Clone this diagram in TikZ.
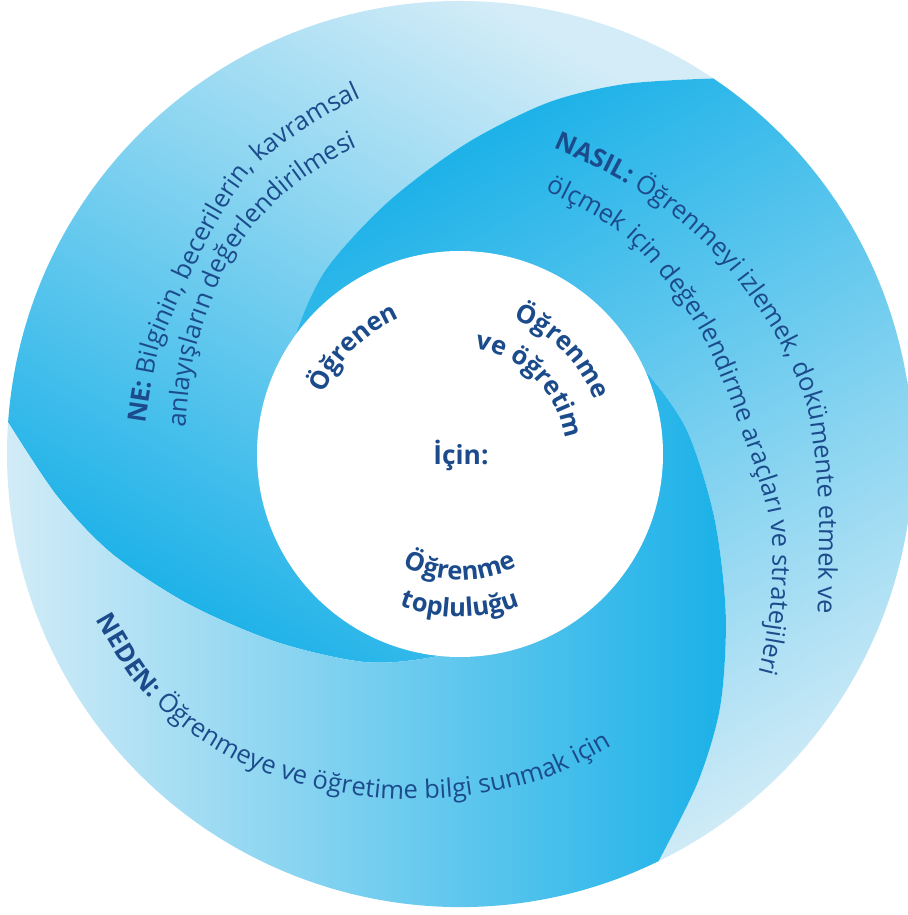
\documentclass[tikz,border=0pt]{standalone}
\usepackage{fontspec}
\setmainfont{Open Sans}
\usetikzlibrary{decorations.text}

\definecolor{swirldark}{RGB}{27,177,232}
\definecolor{swirllight}{RGB}{211,236,247}
\definecolor{labelblue}{RGB}{28,75,140}

\newcommand\ringfont{\fontsize{14.5}{17}\selectfont}
\newcommand\hubfont{\fontsize{14.5}{17}\selectfont\bfseries}

\tikzset{
  blade/.style={shading=axis, top color=swirllight, bottom color=swirldark},
  ringtext/.style={decorate, decoration={text along path, text color=labelblue, text align=left, text={#1}}},
  hubtext/.style={decorate, decoration={text along path, text color=labelblue, text align=center, text={#1}}}
}

\begin{document}
\begin{tikzpicture}[x=0.02cm, y=0.02cm]

            %\draw [help lines] (-460,-461) grid (448,454);
            \useasboundingbox (-460,-461) rectangle (448,454);

            \foreach \t/\s in {176/330, 56/210, -64/90}
              \shade[blade, shading angle=\s]
                plot[smooth] coordinates {({\t+105}:185) ({\t+88}:203) ({\t+70}:228) ({\t+50}:262) ({\t+33}:310) ({\t+20}:362) ({\t+10}:405) (\t:453)}
                arc[start angle=\t, end angle={\t-120}, radius=453]
                -- plot[smooth] coordinates {({\t-120}:453) ({\t-110}:405) ({\t-100}:362) ({\t-87}:310) ({\t-70}:262) ({\t-50}:228) ({\t-32}:203) ({\t-15}:185)}
                -- (0,0) -- cycle;

            \fill[white] (0,0) circle[radius=203];

            \node (icin) [text=labelblue, font=\fontsize{15}{18}\selectfont\bfseries] at (1,-1) {İçin:};

            % outer ring
            \path[ringtext={|\ringfont\bfseries|NE: |\ringfont|Bilginin, becerilerin, kavramsal}]
                plot[smooth] coordinates {(174.5:316) (165:317) (158:319) (138:333) (125:353) (111:364) (100:375) (90:383)};
            \path[ringtext={|\ringfont|anlayışların değerlendirilmesi}]
                plot[smooth] coordinates {(174.5:276) (159:284) (140:301) (125:313) (110:323) (95:333) (85:340)};
            \path[ringtext={|\ringfont\bfseries|NASIL: |\ringfont|Öğrenmeyi izlemek, dokümente etmek ve}]
                plot[smooth] coordinates {(73:320) (60:318) (47:320) (35:326) (20:338) (7:351) (-7:361) (-14:370) (-22:386) (-30:413) (-36:443)};
            \path[ringtext={|\ringfont|ölçmek için değerlendirme araçları ve stratejileri}]
                plot[smooth] coordinates {(72:277) (52:273) (26:270) (-3:296) (-14:321) (-25:343) (-32.5:361) (-40:380) (-46:395)};
            \path[ringtext={|\ringfont\bfseries|NEDEN: |\ringfont|Öğrenmeye ve öğretime bilgi sunmak için}]
                plot[smooth] coordinates {(204.5:400) (215:397) (225:389) (235:378) (245:366) (258:352) (271:342) (285:335) (300:328) (315:326) (325:326)};

            % hub
            \path[hubtext={|\hubfont|Öğrenen}] (200:149) arc[start angle=200, end angle=70, radius=149];
            \path[hubtext={|\hubfont|Öğrenme}] (110:145) arc[start angle=110, end angle=-20, radius=145];
            \path[hubtext={|\hubfont|ve öğretim}] (110:106) arc[start angle=110, end angle=-20, radius=106];
            \path[hubtext={|\hubfont|Öğrenme}] (200:126) arc[start angle=200, end angle=340, radius=126];
            \path[hubtext={|\hubfont|topluluğu}] (200:163) arc[start angle=200, end angle=340, radius=163];

\end{tikzpicture}
\end{document}
